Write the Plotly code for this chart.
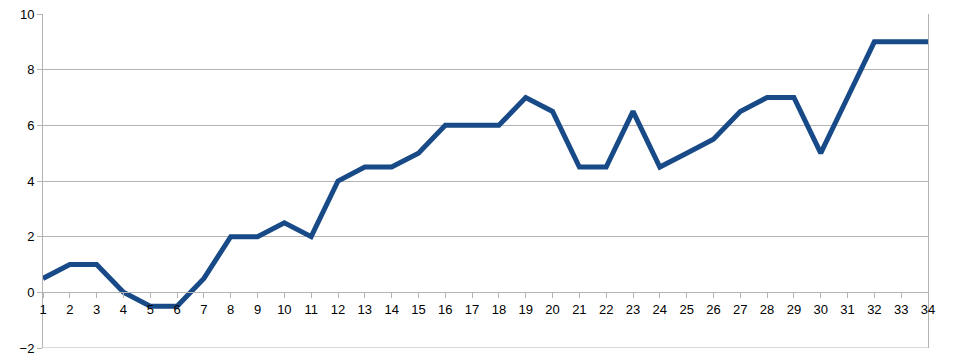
import plotly.graph_objects as go

x_vals = list(range(1, 35))
y_vals = [0.5, 1, 1, 0, -0.5, -0.5, 0.5, 2, 2, 2.5, 2, 4, 4.5, 4.5, 5, 6, 6, 6, 7, 6.5,
          4.5, 4.5, 6.5, 4.5, 5, 5.5, 6.5, 7, 7, 5, 7, 9, 9, 9]
y_ticks = [-2, 0, 2, 4, 6, 8, 10]

fig = go.Figure()
fig.add_trace(go.Scatter(x=x_vals, y=y_vals, mode="lines",
                         line=dict(color="#174a87", width=5), hoverinfo="skip"))

fig.update_layout(
    width=955, height=364,
    margin=dict(l=43, r=27, t=14, b=16, autoexpand=False),
    paper_bgcolor="white", plot_bgcolor="white",
    showlegend=False,
    font=dict(family="Liberation Sans, Arial, sans-serif", size=13, color="#000000"),
    xaxis=dict(range=[1, 34], tickmode="array", tickvals=x_vals,
               ticktext=[str(v) for v in x_vals],
               showgrid=False, zeroline=False, automargin=False,
               showline=True, linecolor="#b3b3b3", linewidth=1,
               ticks="outside", ticklen=5, tickcolor="#b3b3b3",
               anchor="free", position=2/12),
    yaxis=dict(range=[-2, 10], tickmode="array", tickvals=y_ticks,
               showgrid=True, gridcolor="#b3b3b3", gridwidth=1, automargin=False,
               zeroline=False, showline=True, linecolor="#b3b3b3", linewidth=1,
               mirror=True,
               ticks="outside", ticklen=5, tickcolor="#b3b3b3"),
)
fig.add_shape(type="line", xref="paper", yref="y", x0=0, x1=1, y0=y_ticks[0], y1=y_ticks[0],
              line=dict(color="#b3b3b3", width=1), layer="below")

fig.write_html("out.html")
